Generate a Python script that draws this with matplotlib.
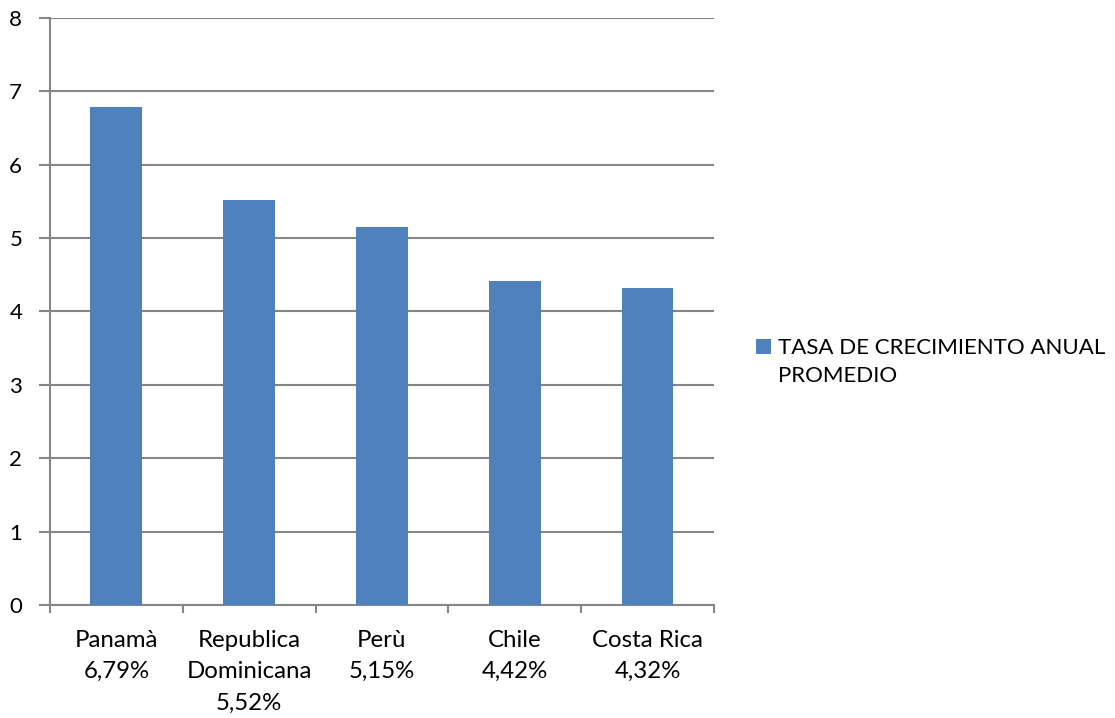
import matplotlib.pyplot as plt
import matplotlib.patches as mpatches
from matplotlib.container import BarContainer
from matplotlib.legend_handler import HandlerPatch
import numpy as np

# datos
paises = ['Panamà', 'Republica\nDominicana', 'Perù', 'Chile', 'Costa Rica']
tasas = [6.79, 5.52, 5.15, 4.42, 4.32]
serie = 'TASA DE CRECIMIENTO ANUAL\nPROMEDIO'
color_barra = '#4F81BD'
gris = '#868686'

plt.rcParams['font.family'] = ['Lato', 'DejaVu Sans']

fig = plt.figure(figsize=(11.15, 7.18), dpi=100)
ax = fig.add_axes([0.0448, 0.1574, 0.5955, 0.8176])

x = np.arange(len(paises))
ax.bar(x, tasas, width=0.39, color=color_barra, label=serie, zorder=3)

ax.set_xlim(-0.5, len(paises) - 0.5)
ax.set_ylim(0, 8)
ax.set_yticks(range(0, 9))
ax.yaxis.grid(True, color=gris, linewidth=1.5, zorder=0)

# etiquetas con el valor de cada pais
etiquetas = [f'{p}\n{t:.2f}%'.replace('.', ',') for p, t in zip(paises, tasas)]
ax.set_xticks(x)
ax.set_xticklabels(etiquetas, fontsize=17.3, linespacing=1.6)
ax.tick_params(axis='x', length=0, pad=18)
ax.set_xticks(np.arange(-0.5, len(paises)), minor=True)
ax.tick_params(axis='x', which='minor', length=6, width=1.5, color=gris)
ax.tick_params(axis='y', length=8, width=1.5, color=gris, labelsize=16, pad=12)

for lado in ['top', 'right']:
    ax.spines[lado].set_visible(False)
for lado in ['left', 'bottom']:
    ax.spines[lado].set_color(gris)
    ax.spines[lado].set_linewidth(1.5)


# cuadrado de la leyenda alineado con la primera linea del texto
def cuadro_arriba(legend, orig_handle, xdescent, ydescent, width, height, fontsize):
    return mpatches.Rectangle((-xdescent, -ydescent + 11.5), width, height)


def color_barras(legend_handle, orig_handle):
    legend_handle.update_from(orig_handle.patches[0])


manejador = HandlerPatch(patch_func=cuadro_arriba, update_func=color_barras)
fig.legend(loc='center left', bbox_to_anchor=(0.678, 0.4958), frameon=False,
           fontsize=16, handlelength=0.68, handleheight=0.68, handletextpad=0.32,
           borderpad=0, borderaxespad=0, labelspacing=0,
           handler_map={BarContainer: manejador})
for t in fig.legends[0].get_texts():
    t.set_linespacing(1.55)

plt.savefig('out.png', dpi=100, facecolor='white')
